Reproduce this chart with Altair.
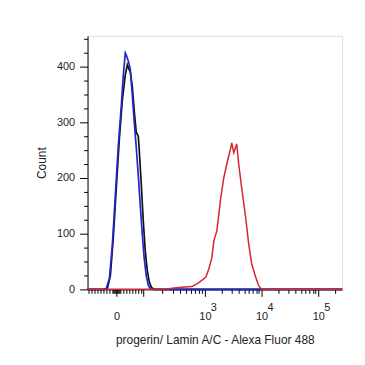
import math
import altair as alt
import pandas as pd

# x values are positions on the biexponential display axis (10^3 -> 3, 10^4 -> 4, 0 -> 1.44)
black_x = [0.930, 1.228, 1.281, 1.333, 1.386, 1.439, 1.491, 1.544, 1.596, 1.632, 1.649, 1.684,
           1.719, 1.754, 1.789, 1.825, 1.842, 1.877, 1.912, 1.947, 1.982, 2.018, 2.053, 2.105, 5.421]
black_y = [0, 0, 2, 25, 95, 185, 270, 340, 385, 403, 398, 390,
           365, 320, 282, 275, 250, 190, 125, 70, 35, 14, 4, 0, 0]

blue_x = [0.930, 1.211, 1.263, 1.316, 1.368, 1.421, 1.474, 1.526, 1.561, 1.596, 1.614, 1.649,
          1.684, 1.719, 1.754, 1.789, 1.825, 1.860, 1.895, 1.930, 1.965, 2.000, 2.035, 2.070, 5.421]
blue_y = [0, 0, 2, 20, 80, 170, 260, 330, 385, 424, 420, 410,
          395, 350, 300, 255, 205, 150, 100, 55, 25, 8, 2, 0, 0]

red_x = [0.930, 2.281, 2.421, 2.596, 2.772, 2.895, 3.018, 3.070, 3.123, 3.158, 3.211, 3.281,
         3.333, 3.386, 3.456, 3.474, 3.509, 3.561, 3.596, 3.649, 3.719, 3.772, 3.825, 3.895,
         3.947, 4.000, 5.421]
red_y = [0, 0, 2, 4, 5, 12, 22, 37, 57, 87, 105, 165,
         200, 225, 254, 263, 245, 261, 225, 182, 129, 82, 46, 22,
         7, 0, 0]

# axis ticks (display units)
zero_pos = 1.44
low_decade = 1.912
major_ticks = [zero_pos, low_decade, 3, 4, 5]
decade_labels = [3, 4, 5]
decade_exponents = ["3", "4", "5"]
x_title = "progerin/ Lamin A/C - Alexa Fluor 488"
y_title = "Count"

minor = []
minor += [0.947 + 0.0526 * i for i in range(8)]
minor += [1.368 + 0.0175 * i for i in range(5)] + [1.456, 1.474, 1.491]
minor += [1.509 + 0.0526 * i for i in range(8)]
minor += [low_decade + (3 - low_decade) * math.log10(k) for k in range(2, 10)]
minor += [3 + math.log10(k) for k in range(2, 10)]
minor += [4 + math.log10(k) for k in range(2, 10)]
minor += [5 + math.log10(2)]
x_ticks = sorted(set([round(v, 4) for v in minor] + major_ticks))

y_ticks = list(range(0, 451, 25))

W, H = 256, 255
font = "Liberation Sans"

xscale = alt.Scale(domain=[0.93, 5.42], nice=False, zero=False)
yscale = alt.Scale(domain=[0, 455], nice=False)

major_test = " || ".join(f"abs(datum.value - {v}) < 0.001" for v in major_ticks)
label_expr = (f"abs(datum.value - {zero_pos}) < 0.001 ? '0' : "
              "((abs(datum.value - 3) < 0.001 || abs(datum.value - 4) < 0.001 || abs(datum.value - 5) < 0.001) ? '10' : '')")

xaxis = alt.Axis(
    values=x_ticks, labelExpr=label_expr, title=x_title, grid=False,
    tickSize={"condition": {"test": major_test, "value": 7}, "value": 4},
    tickColor="black", domainColor="black", labelColor="#222", titleColor="#222",
    labelFont=font, titleFont=font, labelFontSize=11, titleFontSize=12,
    titleFontWeight="normal", labelPadding=14, titlePadding=13, labelOverlap=False,
    labelFlush=False,
)
yaxis = alt.Axis(
    values=y_ticks, grid=False, title=y_title,
    labelExpr="datum.value % 100 == 0 ? datum.label : ''",
    tickSize={"condition": {"test": "datum.value % 100 == 0", "value": 8}, "value": 4},
    tickColor="black", domainColor="black", labelColor="#222", titleColor="#222",
    labelFont=font, titleFont=font, labelFontSize=11, titleFontSize=12,
    titleFontWeight="normal", labelPadding=5, titlePadding=8,
)

def curve(xs, ys, color, width):
    df = pd.DataFrame({"x": xs, "y": ys})
    return alt.Chart(df).mark_line(color=color, strokeWidth=width, interpolate="linear").encode(
        x=alt.X("x:Q", scale=xscale, axis=xaxis),
        y=alt.Y("y:Q", scale=yscale, axis=yaxis),
    )

exp_df = pd.DataFrame({"x": decade_labels, "e": decade_exponents})
exps = alt.Chart(exp_df).mark_text(font=font, fontSize=11, color="#222", align="left", dx=6).encode(
    x=alt.X("x:Q", scale=xscale, axis=xaxis),
    y=alt.value(H + 19),
    text="e:N",
)

chart = alt.layer(
    curve(black_x, black_y, "#111111", 1.7),
    curve(blue_x, blue_y, "#2424c8", 1.7),
    curve(red_x, red_y, "#d6262b", 1.5),
    exps,
).properties(
    width=W, height=H,
    autosize=alt.AutoSizeParams(type="none"),
    padding={"left": 80, "top": 27, "right": 15, "bottom": 60},
).configure_view(stroke="black", strokeWidth=1).configure(background="white")

chart.save("out.html", embed_options={"renderer": "svg", "actions": False})
